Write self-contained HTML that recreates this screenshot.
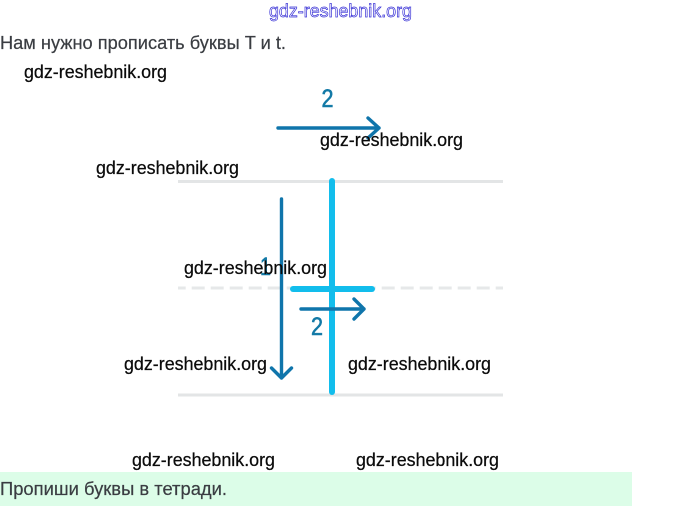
<!DOCTYPE html>
<html>
<head>
<meta charset="utf-8">
<style>
html,body{margin:0;padding:0;background:#fff;width:680px;height:506px;overflow:hidden}
svg{display:block}
.w{font-family:"Liberation Sans","DejaVu Sans",sans-serif;font-size:18.500px;fill:#0b0b0b;stroke:#0b0b0b;stroke-width:0.250}
.t{font-family:"Liberation Sans","Noto Sans CJK SC",sans-serif;font-size:18px;fill:#3a3d42;stroke:#3a3d42;stroke-width:0.200}
.n{font-family:"Liberation Sans",sans-serif;font-size:25px;fill:#1279a6;stroke:#1279a6;stroke-width:0.600}
</style>
</head>
<body>
<svg width="680" height="506" viewBox="0 0 680 506" xmlns="http://www.w3.org/2000/svg">
<rect width="680" height="506" fill="#fff"/>
<rect x="0" y="472" width="632" height="34" fill="#dcfde8"/>

<!-- guide lines -->
<line x1="178" y1="181.500" x2="503" y2="181.500" stroke="#e3e5e6" stroke-width="3"/>
<line x1="178" y1="395" x2="503" y2="395" stroke="#e3e5e6" stroke-width="3"/>
<line x1="178" y1="288" x2="503" y2="288" stroke="#e6e8e9" stroke-width="3" stroke-dasharray="13 6" stroke-dashoffset="5.300"/>

<!-- letter T -->
<line x1="332" y1="181" x2="332" y2="392" stroke="#12bdec" stroke-width="6" stroke-linecap="round"/>
<line x1="293" y1="289" x2="372" y2="289" stroke="#12bdec" stroke-width="6" stroke-linecap="round"/>

<!-- arrows -->
<g fill="none" stroke="#0f75ab" stroke-width="3.400" stroke-linecap="round" stroke-linejoin="round">
  <path d="M278 128H379M368 118L379 128L368 138"/>
  <path d="M281.500 199V378M271.500 368L281.500 378L291.500 368"/>
  <path d="M301 309H364M354 299L364 309L354 319"/>
</g>

<text class="n" x="321.500" y="107" textLength="12" lengthAdjust="spacingAndGlyphs">2</text>
<text class="n" x="311" y="335" textLength="12" lengthAdjust="spacingAndGlyphs">2</text>
<text class="n" x="260" y="275" textLength="11" lengthAdjust="spacingAndGlyphs">1</text>

<!-- text -->
<text class="t" x="0" y="49" textLength="286" lengthAdjust="spacingAndGlyphs">Нам нужно прописать буквы T и t.</text>
<text class="t" x="0" y="495" textLength="227" lengthAdjust="spacingAndGlyphs">Пропиши буквы в тетради.</text>

<!-- outlined top watermark -->
<text x="269" y="17" textLength="143" lengthAdjust="spacingAndGlyphs" font-family="'Liberation Sans',sans-serif" font-size="18" fill="#fff" stroke="#3a33d6" stroke-width="0.700">gdz-reshebnik.org</text>

<!-- watermarks -->
<text class="w" x="24" y="78" textLength="143" lengthAdjust="spacingAndGlyphs">gdz-reshebnik.org</text>
<text class="w" x="320" y="146" textLength="143" lengthAdjust="spacingAndGlyphs">gdz-reshebnik.org</text>
<text class="w" x="96" y="174" textLength="143" lengthAdjust="spacingAndGlyphs">gdz-reshebnik.org</text>
<text class="w" x="184" y="274" textLength="143" lengthAdjust="spacingAndGlyphs">gdz-reshebnik.org</text>
<text class="w" x="124" y="370" textLength="143" lengthAdjust="spacingAndGlyphs">gdz-reshebnik.org</text>
<text class="w" x="348" y="370" textLength="143" lengthAdjust="spacingAndGlyphs">gdz-reshebnik.org</text>
<text class="w" x="132" y="466" textLength="143" lengthAdjust="spacingAndGlyphs">gdz-reshebnik.org</text>
<text class="w" x="356" y="466" textLength="143" lengthAdjust="spacingAndGlyphs">gdz-reshebnik.org</text>
</svg>
</body>
</html>
